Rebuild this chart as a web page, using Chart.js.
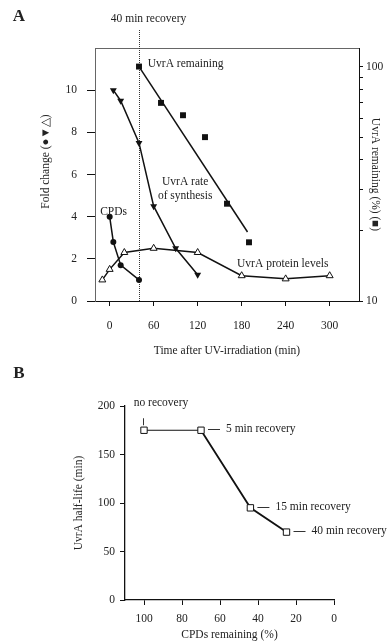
<!DOCTYPE html>
<html><head><meta charset="utf-8">
<script src="https://cdn.jsdelivr.net/npm/chart.js@4.4.1/dist/chart.umd.min.js"></script>
<style>
html,body{margin:0;padding:0;background:#fff;width:388px;height:644px;overflow:hidden}
canvas{position:absolute;left:0;display:block}
#cA{top:0}
#cB{top:360px}
</style></head><body>
<canvas id="cA" width="388" height="360"></canvas>
<canvas id="cB" width="388" height="284"></canvas>
<script>
// ---------- Panel A data ----------
const timeTicks = [0, 60, 120, 180, 240, 300];
const foldTicks = [0, 2, 4, 6, 8, 10];
const remainingTicks = [10, 20, 30, 40, 50, 60, 70, 80, 90, 100];
const remainingLabelled = [10, 100];

const cpdTime = [0, 5, 15, 40];
const cpdFold = [4.0, 2.8, 1.7, 1.0];

const synthTime = [5, 15, 40, 60, 90, 120];
const synthFold = [10.0, 9.5, 7.5, 4.5, 2.5, 1.25];

const proteinTime = [-10, 0, 20, 60, 120, 180, 240, 300];
const proteinFold = [1.0, 1.5, 2.3, 2.5, 2.3, 1.2, 1.05, 1.2];

const remainTime = [40, 70, 100, 130, 160, 190];
const remainPct = [100, 70, 62, 50, 26, 17.8];

const fitTime = [40, 188];
const fitPct = [100, 19.7];

const recoveryTime = 40;

// ---------- Panel B data ----------
const cpdRemaining = [100, 70, 44, 25];
const halfLife = [175, 175, 95, 70];
const pointLabels = ['no recovery', '5 min recovery', '15 min recovery', '40 min recovery'];
const cpdTicks = [100, 80, 60, 40, 20, 0];
const halfLifeTicks = [0, 50, 100, 150, 200];

// ---------- styles ----------
const serif = "'Liberation Serif', 'Times New Roman', serif";
const FS = 11.5;
const ink = '#111';
const textCol = '#222';
const font = {family: serif, size: FS};

function pts(xs, ys) { return xs.map((x, i) => ({x: x, y: ys[i]})); }
function drawText(ctx, s, x, y, align, rot, f) {
  ctx.save();
  ctx.translate(x, y);
  if (rot) ctx.rotate(rot);
  ctx.font = f || (FS + 'px ' + serif);
  ctx.fillStyle = textCol;
  ctx.textAlign = align || 'center';
  ctx.textBaseline = 'middle';
  ctx.fillText(s, 0, 0);
  ctx.restore();
}

// annotations for panel A (in data units of x / left y)
const notesA = [
  {t: '40 min recovery', x: 53, y: 13.36, a: 'center'},
  {t: 'UvrA remaining', x: 52, y: 11.23, a: 'left'},
  {t: 'UvrA rate', x: 103, y: 5.64, a: 'center'},
  {t: 'of synthesis', x: 103, y: 4.99, a: 'center'},
  {t: 'CPDs', x: 5.4, y: 4.22, a: 'center'},
  {t: 'UvrA protein levels', x: 236, y: 1.75, a: 'center'}
];

const annotA = {
  id: 'annotA',
  beforeDatasetsDraw(chart) {
    const {ctx, chartArea: ca, scales} = chart;
    ctx.save();
    // top frame
    ctx.strokeStyle = '#666'; ctx.lineWidth = 1;
    ctx.beginPath(); ctx.moveTo(ca.left, ca.top + 0.5); ctx.lineTo(ca.right, ca.top + 0.5); ctx.stroke();
    // recovery line
    const xr = Math.round(scales.x.getPixelForValue(recoveryTime)) + 0.5;
    ctx.strokeStyle = '#333'; ctx.setLineDash([1, 1]);
    ctx.beginPath(); ctx.moveTo(xr, ca.bottom); ctx.lineTo(xr, ca.top - 18); ctx.stroke();
    ctx.restore();
  },
  afterDraw(chart) {
    const {ctx, chartArea: ca, scales} = chart;
    notesA.forEach(n => drawText(ctx, n.t, scales.x.getPixelForValue(n.x), scales.y.getPixelForValue(n.y), n.a));
    drawText(ctx, 'Fold change (●▼△)', ca.left - 49, ca.top + 113.5, 'center', -Math.PI / 2);
    drawText(ctx, 'A', 19, 17, 'center', 0, 'bold 17px ' + serif);
  }
};

const annotB = {
  id: 'annotB',
  afterDraw(chart) {
    const {ctx} = chart;
    const meta = chart.getDatasetMeta(0);
    ctx.save();
    ctx.strokeStyle = '#333'; ctx.lineWidth = 1;
    meta.data.forEach((p, i) => {
      const px = p.x, py = p.y;
      if (i === 0) {
        ctx.beginPath(); ctx.moveTo(Math.round(px) - 0.5, py - 12); ctx.lineTo(Math.round(px) - 0.5, py - 5); ctx.stroke();
        drawText(ctx, pointLabels[i], px + 17, py - 27, 'center');
      } else {
        const yy = Math.round(py - 1) + 0.5;
        ctx.beginPath(); ctx.moveTo(px + 7, yy); ctx.lineTo(px + 19, yy); ctx.stroke();
        drawText(ctx, pointLabels[i], px + 25, py - 1, 'left');
      }
    });
    ctx.restore();
    drawText(ctx, 'B', 19, 14, 'center', 0, 'bold 17px ' + serif);
  }
};

const axisCommon = {
  grid: {drawOnChartArea: false, drawTicks: true, color: ink, tickColor: ink, tickWidth: 1},
  ticks: {font: font, color: textCol, autoSkip: false, maxRotation: 0}
};

new Chart(document.getElementById('cA'), {
  type: 'line',
  data: {
    datasets: [
      {label: 'CPDs', data: pts(cpdTime, cpdFold), yAxisID: 'y', borderColor: ink, borderWidth: 1.5,
        pointStyle: 'circle', pointRadius: 3, pointBackgroundColor: ink, pointBorderColor: ink, pointBorderWidth: 0},
      {label: 'UvrA rate of synthesis', data: pts(synthTime, synthFold), yAxisID: 'y', borderColor: ink, borderWidth: 1.5,
        pointStyle: 'triangle', rotation: 180, pointRadius: 4, pointBackgroundColor: ink, pointBorderColor: ink, pointBorderWidth: 0},
      {label: 'UvrA protein levels', data: pts(proteinTime, proteinFold), yAxisID: 'y', borderColor: ink, borderWidth: 1.5,
        pointStyle: 'triangle', pointRadius: 4, pointBackgroundColor: '#fff', pointBorderColor: ink, pointBorderWidth: 1},
      {label: 'UvrA remaining fit', data: pts(fitTime, fitPct), yAxisID: 'y2', borderColor: ink, borderWidth: 1.5, pointRadius: 0},
      {label: 'UvrA remaining', data: pts(remainTime, remainPct), yAxisID: 'y2', showLine: false,
        pointStyle: 'rect', pointRadius: 4.2, pointBackgroundColor: ink, pointBorderColor: ink, pointBorderWidth: 0}
    ]
  },
  options: {
    animation: false, responsive: false, devicePixelRatio: 1,
    layout: {padding: {top: 48, left: 0, right: 0, bottom: 0}},
    plugins: {legend: {display: false}, tooltip: {enabled: false}},
    scales: {
      x: {type: 'linear', min: -20, max: 340,
        afterFit(s) { s.height = 59; },
        afterBuildTicks(s) { s.ticks = timeTicks.map(v => ({value: v})); },
        grid: Object.assign({}, axisCommon.grid, {tickLength: 5}),
        border: {display: true, color: ink, width: 1},
        ticks: Object.assign({}, axisCommon.ticks, {padding: 13}),
        title: {display: true, text: 'Time after UV-irradiation (min)', font: font, color: textCol, padding: {top: 0, bottom: 2}}
      },
      y: {type: 'linear', position: 'left', min: 0, max: 12,
        afterFit(s) { s.width = 95; },
        afterBuildTicks(s) { s.ticks = foldTicks.map(v => ({value: v})); },
        grid: Object.assign({}, axisCommon.grid, {tickLength: 8}),
        border: {display: true, color: '#666', width: 1, dash: [1, 1.5]},
        ticks: Object.assign({}, axisCommon.ticks, {padding: 10})
      },
      y2: {type: 'logarithmic', position: 'right', min: 10, max: 120,
        afterFit(s) { s.width = 29; },
        afterBuildTicks(s) { s.ticks = remainingTicks.map(v => ({value: v})); },
        grid: Object.assign({}, axisCommon.grid, {tickLength: 4}),
        border: {display: true, color: ink, width: 1},
        ticks: Object.assign({}, axisCommon.ticks, {padding: 3,
          callback: (v) => remainingLabelled.includes(v) ? String(v) : ''}),
        title: {display: true, text: 'UvrA remaining (%) (■)', font: font, color: textCol, padding: {top: 6, bottom: 0}}
      }
    }
  },
  plugins: [annotA]
});

new Chart(document.getElementById('cB'), {
  type: 'line',
  data: {
    datasets: [
      {label: 'UvrA half-life', data: pts(cpdRemaining, halfLife), borderColor: ink,
        segment: {borderWidth: c => c.p0DataIndex === 0 ? 1 : 1.8},
        borderWidth: 1.8,
        pointStyle: 'rect', pointRadius: 4.5, pointBackgroundColor: '#fff', pointBorderColor: ink, pointBorderWidth: 1}
    ]
  },
  options: {
    animation: false, responsive: false, devicePixelRatio: 1,
    layout: {padding: {top: 46, left: 0, right: 54, bottom: 0}},
    plugins: {legend: {display: false}, tooltip: {enabled: false}},
    scales: {
      x: {type: 'linear', reverse: true, min: 0, max: 110,
        afterFit(s) { s.height = 44; },
        afterBuildTicks(s) { s.ticks = cpdTicks.map(v => ({value: v})); },
        grid: Object.assign({}, axisCommon.grid, {tickLength: 5}),
        border: {display: true, color: ink, width: 1.3},
        ticks: Object.assign({}, axisCommon.ticks, {padding: 7}),
        title: {display: true, text: 'CPDs remaining (%)', font: font, color: textCol, padding: {top: 0, bottom: 2}}
      },
      y: {type: 'linear', position: 'left', min: 0, max: 200,
        afterFit(s) { s.width = 125; },
        afterBuildTicks(s) { s.ticks = halfLifeTicks.map(v => ({value: v})); },
        grid: Object.assign({}, axisCommon.grid, {tickLength: 5}),
        border: {display: true, color: ink, width: 1.3},
        ticks: Object.assign({}, axisCommon.ticks, {padding: 5}),
        title: {display: true, text: 'UvrA half-life (min)', font: font, color: textCol, padding: {top: 72, bottom: 0}}
      }
    }
  },
  plugins: [annotB]
});
</script>
</body></html>
